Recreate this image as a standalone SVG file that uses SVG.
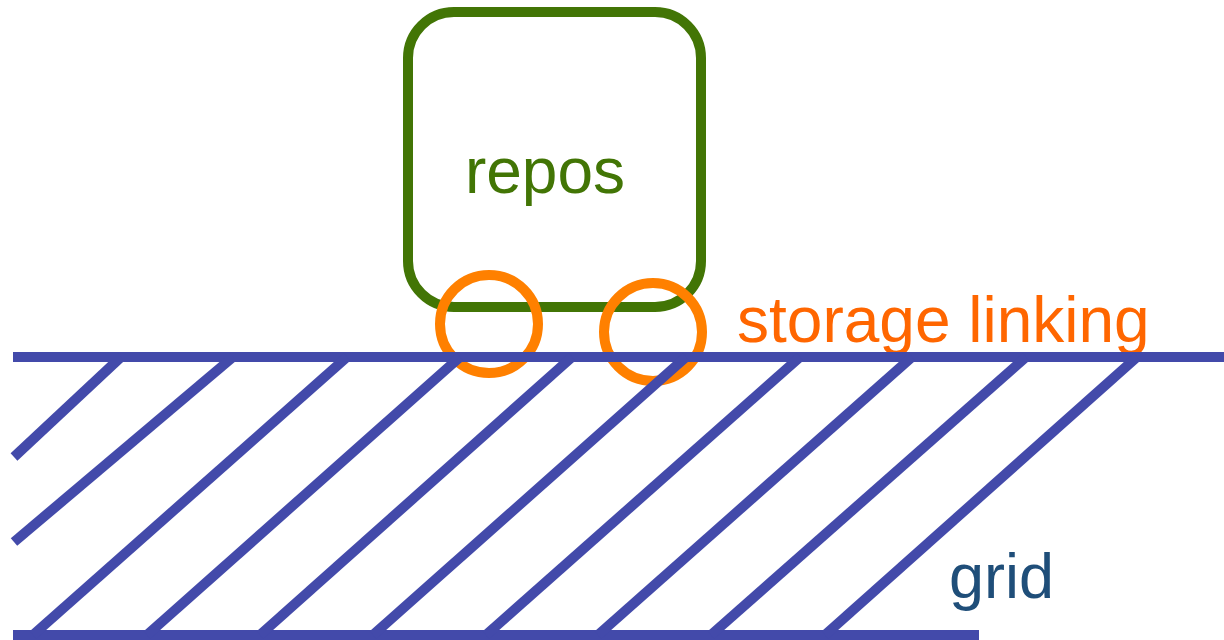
<svg xmlns="http://www.w3.org/2000/svg" width="1224" height="640" viewBox="0 0 1224 640">
  <style>
    .label { font-family: "Liberation Sans", Arial, sans-serif; }
    .repos-box { fill: none; stroke: #427505; stroke-width: 10; }
    .link { fill: none; stroke: #FF8000; stroke-width: 10; }
    .grid-line { stroke: #434AAA; stroke-width: 10; stroke-linecap: butt; fill: none; }
  </style>
  <rect width="1224" height="640" fill="#FFFFFF"/>

  <!-- repository node -->
  <g id="repos">
    <rect class="repos-box" x="408" y="12" width="293" height="295" rx="46" ry="46"/>
    <text class="label" x="545" y="193" font-size="64" fill="#427505" text-anchor="middle">repos</text>
  </g>

  <!-- storage links (wheels) -->
  <g id="storage-linking">
    <circle class="link" cx="489" cy="324" r="49"/>
    <circle class="link" cx="653" cy="332" r="49"/>
    <text class="label" x="737" y="342" font-size="64" fill="#FF6600">storage linking</text>
  </g>

  <!-- grid: ground surface with hatching -->
  <g id="grid">
    <g class="grid-line">
      <line x1="13" y1="357" x2="1224" y2="357"/>
      <line x1="13" y1="635" x2="979" y2="635"/>
      <line x1="121" y1="357" x2="14" y2="457"/>
      <line x1="233" y1="357" x2="14" y2="542"/>
      <line x1="347" y1="357" x2="33" y2="635"/>
      <line x1="460" y1="357" x2="147" y2="635"/>
      <line x1="572" y1="357" x2="260" y2="635"/>
      <line x1="686" y1="357" x2="373" y2="635"/>
      <line x1="800" y1="357" x2="486" y2="635"/>
      <line x1="912" y1="357" x2="598" y2="635"/>
      <line x1="1026" y1="357" x2="711" y2="635"/>
      <line x1="1137" y1="357" x2="825" y2="635"/>
    </g>
    <text class="label" x="949" y="598" font-size="63" fill="#1F4E79">grid</text>
  </g>
</svg>
